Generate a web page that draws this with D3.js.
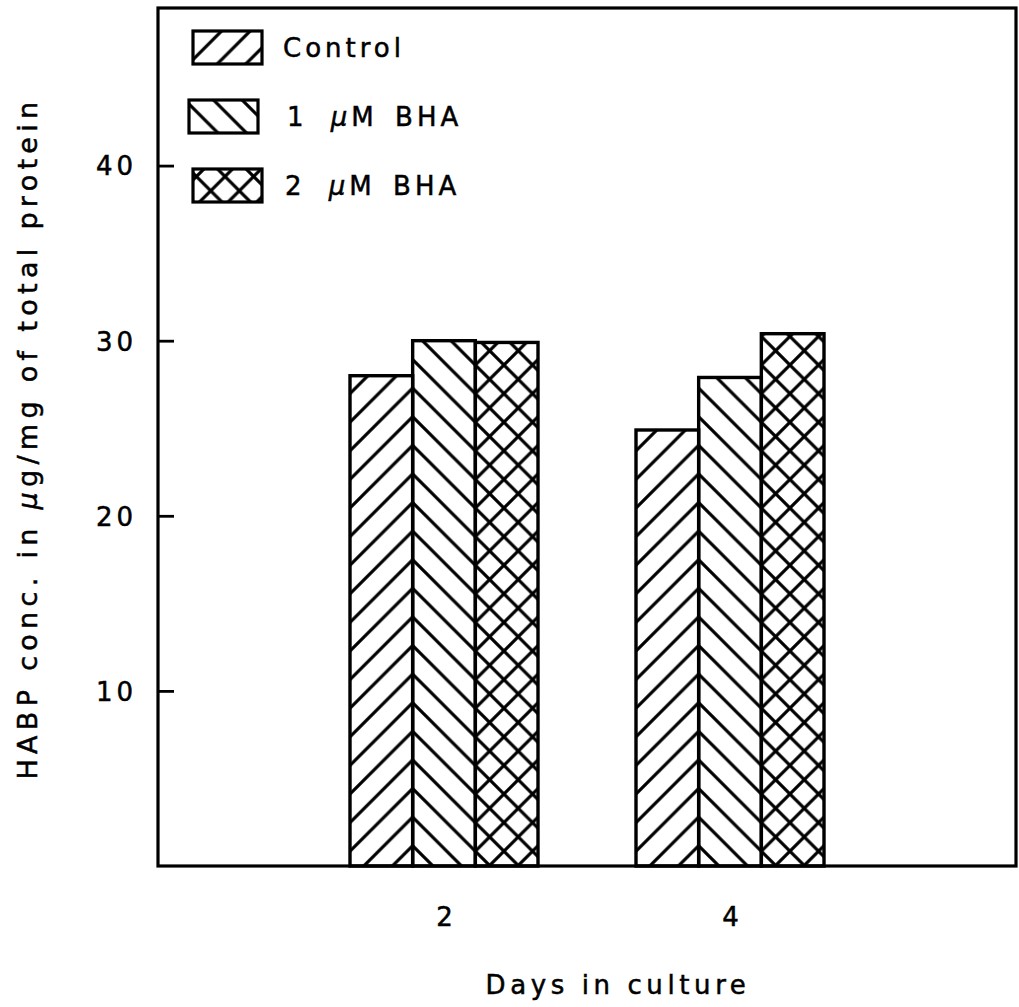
<!DOCTYPE html>
<html>
<head>
<meta charset="utf-8">
<script src="https://cdn.jsdelivr.net/npm/d3@7"></script>
<style>
  body { margin: 0; background: #fff; }
  text { font-family: 'DejaVu Sans', sans-serif; fill: #000; stroke: #000; stroke-width: 0.5px; white-space: pre; }
</style>
</head>
<body>
<div id="chart"></div>
<script>
// values
var days = [2, 4]
var series = ['Control', '1 µM BHA', '2 µM BHA']
var control = [28.0, 24.9]
var bha1 = [30.0, 27.9]
var bha2 = [29.9, 30.4]
var yTicks = [10, 20, 30, 40]

var width = 1019
var height = 1007
var margin = { left: 158, top: 8, right: 3, bottom: 141 }

var svg = d3.select('#chart').append('svg')
    .attr('width', width)
    .attr('height', height)

var x = d3.scaleLinear()
    .domain([0, 6])
    .range([margin.left, width - margin.right])

var y = d3.scaleLinear()
    .domain([0, 49])
    .range([height - margin.bottom, margin.top])

var sub = d3.scaleBand()
    .domain(series)
    .range([-94, 94])

// hatch patterns in page space; offsets chosen so stripes of neighbouring bars meet at the edges
var defs = svg.append('defs')
var step = (x(4) - x(2)) / 10
var b1 = x(2) + sub(series[1])
var b2 = x(2) + sub(series[2])
var offDown = (2 * b1) % step
var offUp2 = (2 * b2 - offDown) % step

function hatch(id, dir, ox) {
    var p = defs.append('pattern')
        .attr('id', id)
        .attr('patternUnits', 'userSpaceOnUse')
        .attr('x', ox)
        .attr('width', step)
        .attr('height', step)
    var s = step
    var d = dir === 'up'
        ? 'M-4,' + (s + 4) + 'L' + (s + 4) + ',-4M-4,4L4,-4M' + (s - 4) + ',' + (s + 4) + 'L' + (s + 4) + ',' + (s - 4)
        : 'M-4,-4L' + (s + 4) + ',' + (s + 4) + 'M' + (s - 4) + ',-4L' + (s + 4) + ',4M-4,' + (s - 4) + 'L4,' + (s + 4)
    p.append('path')
        .attr('d', d)
        .attr('stroke', '#000')
        .attr('stroke-width', 3.2)
        .attr('fill', 'none')
}
hatch('up0', 'up', 0)
hatch('down1', 'down', offDown)
hatch('up2', 'up', offUp2)

var fills = [['url(#up0)'], ['url(#down1)'], ['url(#down1)', 'url(#up2)']]
var values = [control, bha1, bha2]

// bars
var rows = []
days.forEach(function(day, i) {
    series.forEach(function(s, j) {
        rows.push({ day: day, s: s, j: j, v: values[j][i] })
    })
})

var bar = svg.append('g')
    .attr('class', 'bars')
    .selectAll('g')
    .data(rows)
    .enter().append('g')

bar.selectAll('rect.fill')
    .data(function(d) { return fills[d.j].map(function(f) { return { d: d, f: f } }) })
    .enter().append('rect')
    .attr('class', 'fill')
    .attr('x', function(e) { return x(e.d.day) + sub(e.d.s) })
    .attr('y', function(e) { return y(e.d.v) })
    .attr('width', sub.bandwidth())
    .attr('height', function(e) { return y(0) - y(e.d.v) })
    .attr('fill', function(e) { return e.f })

bar.append('rect')
    .attr('x', function(d) { return x(d.day) + sub(d.s) })
    .attr('y', function(d) { return y(d.v) })
    .attr('width', sub.bandwidth())
    .attr('height', function(d) { return y(0) - y(d.v) })
    .attr('fill', 'none')
    .attr('stroke', '#000')
    .attr('stroke-width', 3.4)

// frame
svg.append('rect')
    .attr('x', x(0))
    .attr('y', y(49))
    .attr('width', x(6) - x(0))
    .attr('height', y(0) - y(49))
    .attr('fill', 'none')
    .attr('stroke', '#000')
    .attr('stroke-width', 3.2)

// y axis, ticks pointing inward
var yAxis = d3.axisLeft(y)
    .tickValues(yTicks)
    .tickSize(-16)
    .tickPadding(21)

var ya = svg.append('g')
    .attr('transform', 'translate(' + x(0) + ',0)')
    .call(yAxis)
ya.select('.domain').remove()
ya.selectAll('line').attr('stroke', '#000').attr('stroke-width', 2.8)
ya.selectAll('text')
    .style('font-size', '26px')
    .style('letter-spacing', '4px')
    .attr('dy', '0.36em')

// x axis labels only
var xAxis = d3.axisBottom(x)
    .tickValues(days)
    .tickFormat(d3.format('d'))
    .tickSize(0)
    .tickPadding(42)
var xa = svg.append('g')
    .attr('transform', 'translate(0,' + y(0) + ')')
    .call(xAxis)
xa.select('.domain').remove()
xa.selectAll('text')
    .style('font-size', '26px')

// axis titles
svg.append('text')
    .attr('x', 618)
    .attr('y', 994)
    .attr('text-anchor', 'middle')
    .style('font-size', '26px')
    .style('letter-spacing', '4.6px')
    .text('Days in culture')

var yl = svg.append('text')
    .attr('transform', 'translate(37,438) rotate(-90)')
    .attr('text-anchor', 'middle')
    .style('font-size', '27px')
    .style('letter-spacing', '5.3px')
yl.append('tspan').text('HABP conc. in ')
yl.append('tspan').style('font-style', 'italic').text('µ')
yl.append('tspan').text('g/mg of total protein')

// legend
var legendLabels = [['', 'Control'], ['1 ', 'M BHA'], ['2 ', 'M BHA']]
var lg = svg.append('g').attr('class', 'legend')
var item = lg.selectAll('g')
    .data(series)
    .enter().append('g')
    .attr('transform', function(d, i) { return 'translate(' + [193, 189, 193][i] + ',' + (31 + i * 69) + ')' })

item.selectAll('rect.fill')
    .data(function(d, i) { return fills[i] })
    .enter().append('rect')
    .attr('class', 'fill')
    .attr('width', 69)
    .attr('height', 33)
    .attr('fill', function(f) { return f })

item.append('rect')
    .attr('width', 69)
    .attr('height', 33)
    .attr('fill', 'none')
    .attr('stroke', '#000')
    .attr('stroke-width', 3.2)

var lt = item.append('text')
    .attr('x', function(d, i) { return [90, 98, 92][i] })
    .attr('y', 26)
    .style('font-size', '26px')
    .style('letter-spacing', '4px')
    .style('word-spacing', '5px')
lt.append('tspan').text(function(d, i) { return legendLabels[i][0] })
lt.append('tspan').attr('dx', function(d, i) { return i ? 6 : 0 })
    .style('font-style', 'italic').text(function(d, i) { return i ? 'µ' : '' })
lt.append('tspan').text(function(d, i) { return legendLabels[i][1] })
</script>
</body>
</html>
